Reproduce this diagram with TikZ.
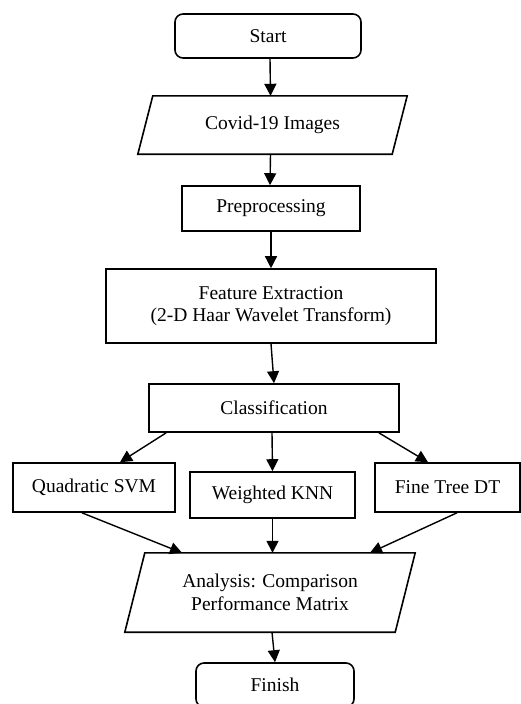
\documentclass[tikz,border=0pt]{standalone}
\usepackage{fontspec}
\setmainfont{Liberation Serif}
\usetikzlibrary{arrows.meta}
\begin{document}
\begin{tikzpicture}[x=1pt,y=-1pt,
  every node/.style={font=\fontsize{19.5}{22.5}\selectfont, align=center, inner sep=0pt},
  box/.style={draw, line width=1.6pt, rectangle},
  term/.style={draw, line width=1.6pt, rectangle, rounded corners=8pt},
  para/.style={rectangle},
  arr/.style={line width=1.4pt, -{Triangle[length=12pt,width=12pt]}}]
\clip (0,0) rectangle (521,704);
\fill[white] (0,0) rectangle (521,704);

\node[term, minimum width=186pt, minimum height=44pt] (start) at (268,36) {Start};
\node[para, minimum width=254pt, minimum height=58pt] (cov) at (272.5,125) {Covid-19 Images};
\draw[line width=1.6pt] ([xshift=7.5pt]cov.north west) -- ([xshift=7.5pt]cov.north east)
  -- ([xshift=-7.5pt]cov.south east) -- ([xshift=-7.5pt]cov.south west) -- cycle;
\node[box, minimum width=178pt, minimum height=45pt] (pre) at (271,208.5) {Preprocessing};
\node[box, minimum width=330pt, minimum height=74pt] (feat) at (271,306) {Feature Extraction\\(2-D Haar Wavelet Transform)};
\node[box, minimum width=250pt, minimum height=48pt] (cls) at (274,408) {Classification};
\node[box, minimum width=162pt, minimum height=49pt] (svm) at (94,487.5) {Quadratic SVM};
\node[box, minimum width=165pt, minimum height=46pt] (knn) at (272.5,495) {Weighted KNN};
\node[box, minimum width=145pt, minimum height=49pt] (dt) at (447.5,487.5) {Fine Tree DT};
\node[para, minimum width=270pt, minimum height=79pt] (ana) at (270,592.5) {Analysis: Comparison\\Performance Matrix};
\draw[line width=1.6pt] ([xshift=10pt]ana.north west) -- ([xshift=10pt]ana.north east)
  -- ([xshift=-10pt]ana.south east) -- ([xshift=-10pt]ana.south west) -- cycle;
\node[term, minimum width=158pt, minimum height=44pt] (fin) at (275,685) {Finish};

\draw[arr] ([xshift=2pt]start.south) -- ([xshift=-2pt]cov.north);
\draw[arr] ([xshift=-2pt]cov.south) -- ([xshift=-1pt]pre.north);
\draw[arr] (pre.south) -- (feat.north);
\draw[arr] (feat.south) -- (cls.north);
\draw[arr] ([xshift=18pt]cls.south west) -- ([xshift=26pt]svm.north);
\draw[arr] ([xshift=-2pt]cls.south) -- (knn.north);
\draw[arr] ([xshift=-21pt]cls.south east) -- ([xshift=-19.5pt]dt.north);
\draw[arr] ([xshift=-12pt]svm.south) -- ([xshift=-88pt]ana.north);
\draw[arr] (knn.south) -- ([xshift=2.5pt]ana.north);
\draw[arr] ([xshift=9.5pt]dt.south) -- ([xshift=100pt]ana.north);
\draw[arr] ([xshift=2pt]ana.south) -- (fin.north);
\end{tikzpicture}
\end{document}
